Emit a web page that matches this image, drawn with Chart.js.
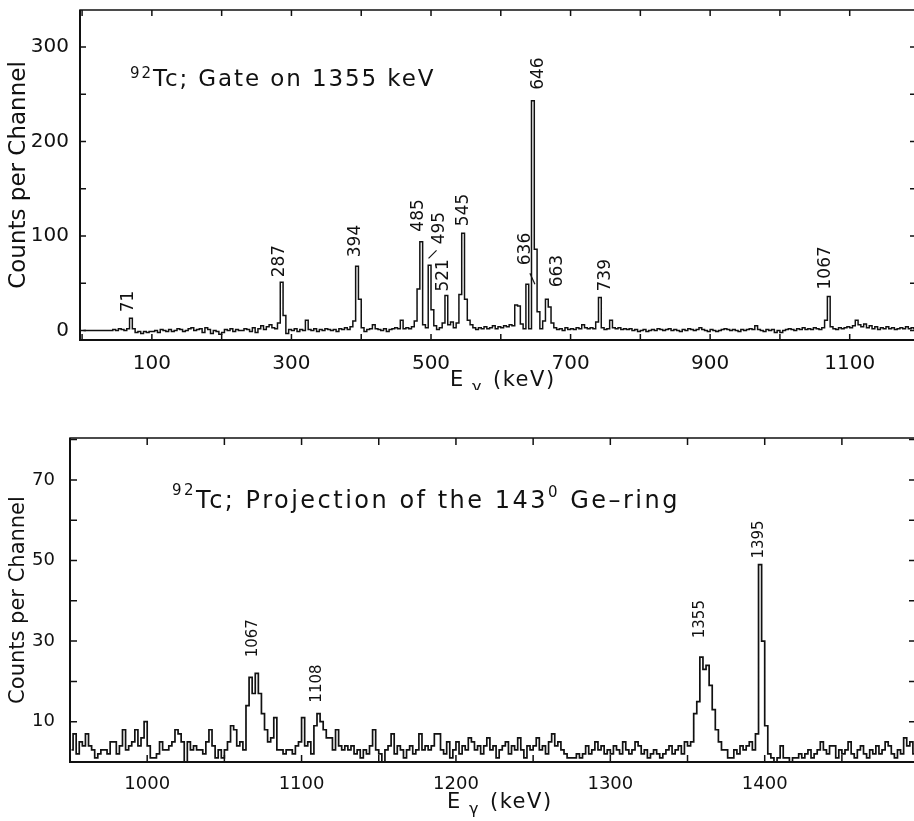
<!DOCTYPE html>
<html>
<head>
<meta charset="utf-8">
<title>92Tc gamma spectra</title>
<script src="https://cdn.jsdelivr.net/npm/chart.js"></script>
<style>
    html, body { margin: 0; padding: 0; background: #fff; overflow: hidden; }
    #wrap { position: relative; width: 914px; height: 821px; overflow: hidden; }
    #wrap canvas { position: absolute; left: 0; }
    #gateChart { top: 0; }
    #ringChart { top: 390px; }
</style>
</head>
<body>
<div id="wrap">
    <canvas id="gateChart" width="918" height="390"></canvas>
    <canvas id="ringChart" width="918" height="431"></canvas>
</div>
<script>
//gated spectrum, 4 keV channels, first channel centred on 2 keV
const gateStart = 2;
const gateWidth = 4;
const gateCounts = [
    0, 0, 0, 0, 0, 0, 0, 0, 0, 0, 0, 1, 0, 2, 1, 0, 2, 13, 2, -2, -1, -3, -1, -2, -1,
    -1, 0, -2, 1, 0, -1, 1, -1, 0, 2, 1, -1, 0, 2, 3, 0, 1, 2, -2, 3, 1, -3, 0, -1, -4,
    -2, 1, 0, 2, -1, 1, 0, 0, 2, 1, -1, 3, -2, 2, 5, 1, 4, 6, 3, 2, 8, 51, 16, -3, 1,
    0, 2, -1, 1, 0, 11, 1, 0, 2, -1, 1, 0, 2, 1, 0, 1, -1, 2, 1, 3, 1, 4, 10, 68, 33,
    3, -1, 1, 2, 6, 2, 1, 0, 2, -1, 1, 2, 3, 2, 11, 2, 3, 2, 4, 10, 44, 94, 6, 3, 69,
    22, 5, 1, 3, 8, 37, 6, 9, 3, 8, 38, 103, 33, 11, 6, 3, 1, 3, 2, 4, 2, 3, 5, 2, 4,
    3, 5, 4, 6, 5, 27, 26, 7, 2, 49, 2, 243, 86, 20, 2, 10, 33, 25, 8, 3, 1, 2, 0, 3, 1,
    2, 1, 3, 2, 6, 3, 2, 3, 2, 9, 35, 3, 1, 2, 11, 3, 2, 3, 1, 2, 1, 2, 0, 1, -1,
    0, 1, -1, 0, 1, 0, 2, 1, 0, 1, 2, 0, 1, 0, -1, 1, 0, 2, 1, 0, 1, 3, 1, 0, -1,
    1, 0, -1, 0, 1, 2, 1, 0, 1, 0, -1, 1, 0, 1, 2, 1, 5, 1, 0, -1, 1, 0, 1, -2, 0,
    -2, 0, 1, 2, 1, 0, 2, 1, 3, 1, 2, 1, 3, 2, 1, 3, 11, 36, 4, 2, 1, 3, 2, 3, 4,
    3, 5, 11, 6, 4, 7, 3, 5, 2, 4, 1, 3, 2, 4, 2, 3, 1, 2, 3, 2, 4, 2, 3, 2, 3
];
const gatePeaks = [71, 287, 394, 485, 495, 521, 545, 636, 646, 663, 739, 1067];
const gateXTicks = [0, 100, 200, 300, 400, 500, 600, 700, 800, 900, 1000, 1100];
const gateXLabels = [100, 300, 500, 700, 900, 1100];
const gateYTicks = [0, 50, 100, 150, 200, 250, 300];
const gateYLabels = [0, 100, 200, 300];

//projection of the 143 degree ring, 2 keV channels from 950 keV
const ringStart = 951;
const ringWidth = 2;
const ringCounts = [
    3, 7, 2, 5, 4, 7, 4, 3, 1, 2, 3, 3, 2, 5, 5, 2, 4, 8, 3, 4, 5, 8, 4, 6, 10,
    4, 1, 1, 2, 5, 3, 3, 4, 5, 8, 7, 5, 0, 5, 3, 4, 3, 3, 2, 5, 8, 4, 1, 3, 1,
    3, 5, 9, 8, 4, 5, 3, 14, 21, 17, 22, 17, 12, 8, 5, 6, 11, 3, 3, 2, 3, 3, 2, 4, 5,
    11, 4, 5, 2, 9, 12, 10, 8, 6, 6, 3, 8, 4, 3, 4, 3, 4, 2, 3, 1, 3, 2, 4, 8, 3,
    2, 0, 3, 4, 7, 2, 4, 3, 1, 3, 4, 2, 3, 7, 3, 4, 3, 4, 7, 7, 3, 2, 5, 1, 3,
    5, 2, 4, 3, 6, 5, 3, 4, 2, 4, 6, 3, 4, 1, 3, 4, 5, 2, 4, 3, 6, 3, 1, 4, 3,
    4, 6, 3, 4, 2, 5, 7, 4, 5, 3, 2, 1, 1, 1, 2, 1, 2, 4, 2, 3, 5, 3, 4, 2, 3,
    2, 4, 3, 2, 5, 3, 2, 3, 5, 4, 2, 3, 1, 2, 3, 2, 1, 2, 3, 4, 2, 3, 4, 2, 5,
    4, 5, 12, 15, 26, 23, 24, 19, 13, 8, 5, 3, 3, 1, 1, 3, 2, 4, 3, 4, 5, 3, 7, 49, 30,
    9, 2, 1, 0, 1, 4, 1, 1, 0, 1, 1, 2, 1, 2, 3, 1, 2, 3, 5, 3, 2, 4, 4, 1, 3,
    2, 3, 5, 2, 1, 3, 4, 2, 1, 3, 2, 4, 2, 3, 5, 4, 2, 1, 3, 2, 6, 4, 5, 2, 3
];
const ringPeaks = [1067, 1108, 1355, 1395];
const ringXTicks = [950, 1000, 1050, 1100, 1150, 1200, 1250, 1300, 1350, 1400, 1450];
const ringXLabels = [1000, 1100, 1200, 1300, 1400];
const ringYTicks = [0, 10, 20, 30, 40, 50, 60, 70, 80];
const ringYLabels = [10, 30, 50, 70];

const INK = '#111';
const FONT = '"DejaVu Sans", "Liberation Sans", sans-serif';

//peak label placement: [dx px, gap px above the peak top]
const gateLabelShift = {
    71: [-3, 6], 287: [-3, 5], 394: [-1, 9], 485: [-2, 10], 495: [12, 21], 521: [-2, 4],
    545: [1, 7], 636: [0, 19], 646: [6, 11], 663: [13, 12], 739: [8, 6], 1067: [-1, 7]
};
//short leader strokes, relative to the label foot: [x1, y1, x2, y2]
const gateLeaders = { 495: [-11, 14, -3, 6], 636: [4, 8, 9, 19] };
const ringLabelShift = { 1067: [2, 16], 1108: [3, 11], 1355: [5, 19], 1395: [2, 6] };

function toPoints(start, width, counts) {
    return counts.map((c, i) => ({ x: start + i * width, y: c }));
}

function peakTop(start, width, counts, energy) {
    let top = -Infinity;
    counts.forEach((c, i) => {
        const e = start + i * width;
        if (e >= energy - 3 && e <= energy + 6 && c > top) top = c;
    });
    return top;
}

//draws a run of text pieces, each with its own size and rise
function drawPieces(ctx, pieces, x, baseline, spacing) {
    let cx = x;
    pieces.forEach(p => {
        ctx.font = p.size + 'px ' + FONT;
        ctx.letterSpacing = spacing + 'px';
        ctx.textAlign = 'left';
        ctx.textBaseline = 'alphabetic';
        ctx.fillText(p.text, cx, baseline - (p.rise || 0));
        cx += ctx.measureText(p.text).width;
    });
    ctx.letterSpacing = '0px';
}

function drawUp(ctx, text, x, y, align) {
    ctx.save();
    ctx.translate(x, y);
    ctx.rotate(-Math.PI / 2);
    ctx.textAlign = align;
    ctx.textBaseline = 'middle';
    ctx.fillText(text, 0, 0);
    ctx.restore();
}

const spectrumDecor = {
    id: 'spectrumDecor',
    afterDraw(chart, args, opts) {
        const { ctx, chartArea: a } = chart;
        const x = chart.scales.x;
        const y = chart.scales.y;

        ctx.save();
        ctx.strokeStyle = INK;
        ctx.fillStyle = INK;

        //frame
        ctx.lineWidth = 1.5;
        ctx.strokeRect(a.left, a.top, a.right - a.left, a.bottom - a.top);
        ctx.lineWidth = 2;
        ctx.beginPath();
        ctx.moveTo(a.left, a.top);
        ctx.lineTo(a.left, a.bottom);
        ctx.lineTo(a.right, a.bottom);
        ctx.stroke();

        //inward ticks on all four sides
        ctx.lineWidth = 1.5;
        ctx.beginPath();
        x.ticks.forEach(t => {
            const px = x.getPixelForValue(t.value);
            ctx.moveTo(px, a.bottom);
            ctx.lineTo(px, a.bottom - opts.tick);
            ctx.moveTo(px, a.top);
            ctx.lineTo(px, a.top + opts.tick);
        });
        y.ticks.forEach(t => {
            const py = y.getPixelForValue(t.value);
            ctx.moveTo(a.left, py);
            ctx.lineTo(a.left + opts.tick, py);
            ctx.moveTo(a.right, py);
            ctx.lineTo(a.right - opts.tick, py);
        });
        ctx.stroke();

        //axis titles
        ctx.font = opts.yTitleSize + 'px ' + FONT;
        drawUp(ctx, 'Counts per Channel', 19, (a.top + a.bottom) / 2, 'center');

        const L = opts.xTitleLeft;
        const B = opts.xTitleBase;
        drawPieces(ctx, [{ text: 'E', size: 21 }], L, B, 0);
        drawPieces(ctx, [{ text: '\u03b3', size: 16 }], L + 22, B + 6, 0);
        drawPieces(ctx, [{ text: '(keV)', size: 21 }], L + 43, B, 1.5);

        //panel title
        drawPieces(ctx, opts.title, opts.titleX, opts.titleBase, opts.titleSpacing);

        //peak labels
        ctx.font = opts.peakSize + 'px ' + FONT;
        ctx.lineWidth = 1.2;
        opts.peaks.forEach(e => {
            const [dx, gap] = opts.shift[e];
            const top = peakTop(opts.start, opts.width, opts.counts, e);
            const lx = x.getPixelForValue(e) + dx;
            const ly = y.getPixelForValue(top) - gap;
            drawUp(ctx, String(e), lx, ly, 'left');
            const ld = opts.leaders[e];
            if (ld) {
                ctx.beginPath();
                ctx.moveTo(lx + ld[0], ly + ld[1]);
                ctx.lineTo(lx + ld[2], ly + ld[3]);
                ctx.stroke();
            }
        });

        ctx.restore();
    }
};

function makeSpectrum(canvasId, cfg) {
    const ctx = document.getElementById(canvasId).getContext('2d');
    return new Chart(ctx, {
        type: 'line',
        data: {
            datasets: [{
                data: toPoints(cfg.start, cfg.width, cfg.counts),
                borderColor: INK,
                borderWidth: cfg.lineWidth,
                pointRadius: 0,
                fill: false,
                stepped: 'middle'
            }]
        },
        options: {
            responsive: false,
            animation: false,
            devicePixelRatio: 1,
            layout: { padding: cfg.padding },
            plugins: {
                legend: { display: false },
                tooltip: { enabled: false },
                spectrumDecor: cfg.decor
            },
            scales: {
                x: {
                    type: 'linear',
                    min: cfg.xMin,
                    max: cfg.xMax,
                    grid: { display: false },
                    border: { display: false },
                    afterBuildTicks: s => { s.ticks = cfg.xTicks.map(v => ({ value: v })); },
                    afterFit: s => {
                        s.height = cfg.xHeight;
                        s.paddingLeft = 0;
                        s.paddingRight = 0;
                    },
                    ticks: {
                        autoSkip: false,
                        maxRotation: 0,
                        padding: 4,
                        color: INK,
                        font: { family: FONT, size: cfg.tickSize },
                        callback: v => cfg.xLabels.includes(v) ? String(v) : ''
                    }
                },
                y: {
                    min: cfg.yMin,
                    max: cfg.yMax,
                    grid: { display: false },
                    border: { display: false },
                    afterBuildTicks: s => { s.ticks = cfg.yTicks.map(v => ({ value: v })); },
                    afterFit: s => {
                        s.width = cfg.yWidth;
                        s.paddingTop = 0;
                        s.paddingBottom = 0;
                    },
                    ticks: {
                        autoSkip: false,
                        padding: cfg.yPad,
                        color: INK,
                        font: { family: FONT, size: cfg.tickSize },
                        callback: v => cfg.yLabels.includes(v) ? String(v) : ''
                    }
                }
            }
        },
        plugins: [spectrumDecor]
    });
}

makeSpectrum('gateChart', {
    start: gateStart, width: gateWidth, counts: gateCounts, lineWidth: 1.5,
    xMin: -3, xMax: 1195, yMin: -10, yMax: 339,
    xTicks: gateXTicks, xLabels: gateXLabels, yTicks: gateYTicks, yLabels: gateYLabels,
    padding: { top: 10, right: 2, left: 0, bottom: 0 },
    xHeight: 50, yWidth: 80, yPad: 3, tickSize: 20,
    decor: {
        tick: 6, yTitleSize: 23,
        xTitleLeft: 450, xTitleBase: 386,
        titleX: 130, titleBase: 86, titleSpacing: 1.9,
        title: [
            { text: '92', size: 15, rise: 8 },
            { text: 'Tc; Gate on 1355 keV', size: 23 }
        ],
        peakSize: 17, peaks: gatePeaks, shift: gateLabelShift, leaders: gateLeaders,
        start: gateStart, width: gateWidth, counts: gateCounts
    }
});

makeSpectrum('ringChart', {
    start: ringStart, width: ringWidth, counts: ringCounts, lineWidth: 1.7,
    xMin: 950, xMax: 1498, yMin: 0, yMax: 80.4,
    xTicks: ringXTicks, xLabels: ringXLabels, yTicks: ringYTicks, yLabels: ringYLabels,
    padding: { top: 48, right: 2, left: 0, bottom: 0 },
    xHeight: 59, yWidth: 70, yPad: 7, tickSize: 18,
    decor: {
        tick: 7, yTitleSize: 21,
        xTitleLeft: 447, xTitleBase: 418,
        titleX: 172, titleBase: 118, titleSpacing: 2.5,
        title: [
            { text: '92', size: 15, rise: 13 },
            { text: 'Tc; Projection of the 143', size: 24 },
            { text: '0', size: 15, rise: 11 },
            { text: ' Ge\u2013ring', size: 24 }
        ],
        peakSize: 15, peaks: ringPeaks, shift: ringLabelShift, leaders: {},
        start: ringStart, width: ringWidth, counts: ringCounts
    }
});
</script>
</body>
</html>
